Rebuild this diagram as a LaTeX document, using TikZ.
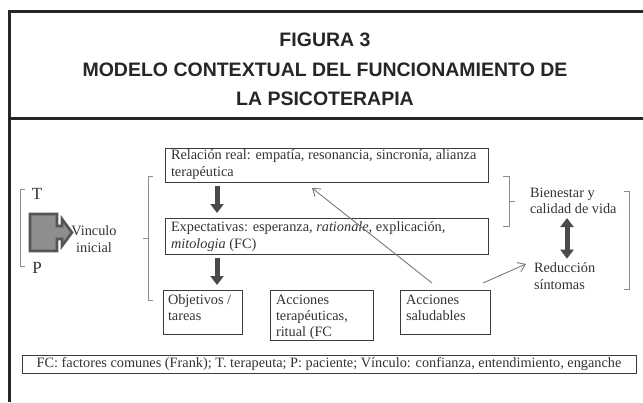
\documentclass[tikz,border=0pt]{standalone}
\usepackage{fontspec}
\setmainfont{Liberation Serif}
\newfontfamily\titlefont{Liberation Sans}
\usetikzlibrary{arrows.meta}
\definecolor{framec}{HTML}{262626}
\definecolor{txt}{HTML}{333333}
\definecolor{boxc}{HTML}{3C3C3C}
\definecolor{brc}{HTML}{8C8C8C}
\definecolor{fatc}{HTML}{4A4A4A}
\definecolor{thinc}{HTML}{7A7A7A}
\definecolor{sqfill}{HTML}{8E8E8E}
\definecolor{sqdraw}{HTML}{555555}
\begin{document}
\begin{tikzpicture}[x=1pt,y=-1pt,
  every node/.style={inner sep=0pt,outer sep=0pt},
  framel/.style={draw=framec,line width=3pt},
  boxr/.style={draw=boxc,line width=0.9pt,rectangle},
  tx/.style={text=txt,font=\fontsize{14.3}{16.5}\selectfont,align=left,anchor=north west},
  txb/.style={text=txt,font=\fontsize{14.3}{16}\selectfont,align=left,anchor=north west},
  txc/.style={text=txt,font=\fontsize{14.3}{16.5}\selectfont,align=center},
  ttl/.style={text=framec,font=\titlefont\bfseries\fontsize{19.5}{29.5}\selectfont,align=center},
  brace/.style={draw=brc,line width=0.8pt},
  fat/.style={draw=fatc,line width=5pt,-{Triangle[width=13pt,length=9pt]}},
  fatboth/.style={draw=fatc,line width=5pt,{Triangle[width=13pt,length=9pt]}-{Triangle[width=13pt,length=9pt]}},
  thinarr/.style={draw=thinc,line width=0.9pt,-{Straight Barb[length=7pt,width=10pt]}}
]
\useasboundingbox (0,0) rectangle (643,402);
\fill[white] (0,0) rectangle (643,402);
% frame
\draw[framel] (9.5,402) -- (9.5,11) -- (643,11);
\draw[framel] (9.5,118) -- (643,118);
% title
\node[ttl] (title) at (325,69.5) {FIGURA 3\\MODELO CONTEXTUAL DEL FUNCIONAMIENTO DE\\LA PSICOTERAPIA};
% T / P bracket
\node[txc,font=\fontsize{17}{18}\selectfont] (T) at (37,194) {T};
\node[txc,font=\fontsize{17}{18}\selectfont] (P) at (37,268) {P};
\draw[brace] (25,189) -- (20,189) -- (20,266) -- (25,266);
% square with block arrow
\draw[draw=sqdraw,fill=sqfill,line width=2.6pt,line join=miter]
  (30,214) -- (57,214) -- (57,226) -- (62,226) -- (62,219) -- (72,232.5)
  -- (62,246) -- (62,239) -- (57,239) -- (57,251) -- (30,251) -- cycle;
\node[txc] (vin) at (94,239) {Vinculo\\inicial};
% big left brace
\draw[brace] (153,176) -- (148,176) -- (148,300) -- (153,300);
\draw[brace] (148,238) -- (143,238);
% main boxes
\node[boxr,minimum width=323pt,minimum height=34pt] (rel) at (326.5,165) {};
\node[tx] at ([xshift=6pt,yshift=-2pt]rel.north west) {Relación real: empatía, resonancia, sincronía, alianza\\terapéutica};
\node[boxr,minimum width=323pt,minimum height=36pt] (exp) at (326.5,236) {};
\node[tx] at ([xshift=6pt,yshift=-4pt]exp.north west) {Expectativas: esperanza, \textit{rationale}, explicación,\\\textit{mitologia} (FC)};
% bottom boxes
\node[boxr,minimum width=79pt,minimum height=44pt] (obj) at (202.5,312) {};
\node[txb] at ([xshift=5pt,yshift=-5pt]obj.north west) {Objetivos /\\tareas};
\node[boxr,minimum width=103pt,minimum height=50pt] (ter) at (321.5,315) {};
\node[txb] at ([xshift=6pt,yshift=-5pt]ter.north west) {Acciones\\terapéuticas,\\ritual (FC};
\node[boxr,minimum width=90pt,minimum height=44pt] (sal) at (445,312) {};
\node[txb] at ([xshift=6pt,yshift=-5pt]sal.north west) {Acciones\\saludables};
% fat down arrows
\coordinate (ax) at (217,0);
\draw[fat] ([yshift=-4pt]rel.south -| ax) -- ([yshift=5pt]exp.north -| ax);
\draw[fat] ([yshift=-4pt]exp.south -| ax) -- ([yshift=5pt]obj.north -| ax);
% right brace
\draw[brace] (503,176) -- (509,176) -- (509,226) -- (503,226);
\draw[brace] (509,201) -- (515,201);
% outcomes
\node[tx,anchor=west] (bien) at (530,201) {Bienestar y\\calidad de vida};
\node[tx,anchor=west] (red) at (534,276) {Reducción\\síntomas};
\coordinate (dx) at (567,0);
\draw[fatboth] (bien.south -| dx) ++(0,4) -- ([yshift=4pt]red.north -| dx);
\draw[brace] (624,191) -- (629,191) -- (629,289) -- (624,289);
% thin arrows
\coordinate (s1) at (432,283);
\coordinate (e1) at (312,188);
\draw[thinarr] (s1) -- (e1);
\coordinate (s2) at (483,283);
\draw[thinarr] (s2) -- ([xshift=-8pt]red.west |- 0,264);
% footer
\node[boxr,minimum width=614pt,minimum height=18pt] (foot) at (329,364) {};
\node[txc] at (foot.center) {FC: factores comunes (Frank); T. terapeuta; P: paciente; Vínculo: confianza, entendimiento, enganche};
\end{tikzpicture}
\end{document}
